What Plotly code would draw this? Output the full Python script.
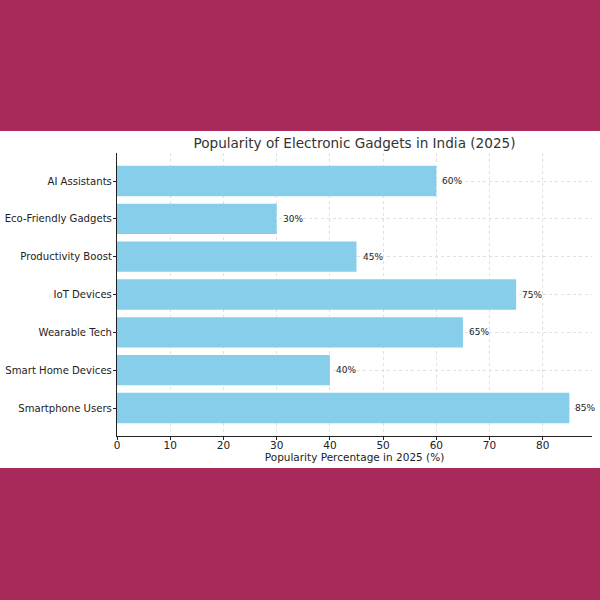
import plotly.graph_objects as go

categories = ["Smartphone Users", "Smart Home Devices", "Wearable Tech", "IoT Devices",
              "Productivity Boost", "Eco-Friendly Gadgets", "AI Assistants"]
values = [85, 40, 65, 75, 45, 30, 60]
x_ticks = [0, 10, 20, 30, 40, 50, 60, 70, 80]

maroon = "#A72A5A"
bar_color = "#87CEEB"
font_family = "DejaVu Sans"

fig = go.Figure()
fig.add_trace(go.Bar(
    x=values, y=list(range(len(categories))), orientation="h",
    marker=dict(color=bar_color, line=dict(width=0)), width=0.8,
    hoverinfo="skip",
))

for i, v in enumerate(values):
    fig.add_annotation(x=v, y=i, text=f"{v}%", showarrow=False, xanchor="left",
                       xshift=4, font=dict(size=9, color="#222222", family=font_family))

# maroon bands above and below the white chart band
fig.add_shape(type="rect", xref="paper", yref="paper", x0=-0.3, x1=1.1, y0=1.0777, y1=1.7,
              fillcolor=maroon, line=dict(width=0), layer="below")
fig.add_shape(type="rect", xref="paper", yref="paper", x0=-0.3, x1=1.1, y0=-0.8, y1=-0.113,
              fillcolor=maroon, line=dict(width=0), layer="below")

fig.update_layout(
    width=600, height=600,
    paper_bgcolor="white", plot_bgcolor="white",
    margin=dict(l=117, r=8, t=153, b=164, autoexpand=False),
    showlegend=False,
    font=dict(family=font_family, color="#222222"),
    title=dict(text="Popularity of Electronic Gadgets in India (2025)",
               x=354.5 / 600, xanchor="center", y=1 - 143 / 600, yanchor="middle",
               font=dict(size=13.6, color="#333333", family=font_family)),
    xaxis=dict(range=[0, 89.25], tickvals=x_ticks, ticktext=[str(t) for t in x_ticks],
               showgrid=True, gridcolor="#e0e0e0", griddash="dot", gridwidth=1,
               showline=True, linecolor="#222222", linewidth=1.2,
               ticks="outside", ticklen=3, tickcolor="#222222",
               tickfont=dict(size=10.5), zeroline=False, automargin=False,
               ticklabelstandoff=-4,
               title=dict(text="Popularity Percentage in 2025 (%)", font=dict(size=10.5), standoff=0)),
    yaxis=dict(range=[-0.74, 6.74], tickvals=list(range(len(categories))), ticktext=categories,
               showgrid=True, gridcolor="#e0e0e0", griddash="dot", gridwidth=1,
               showline=True, linecolor="#222222", linewidth=1.2,
               ticks="outside", ticklen=3, tickcolor="#222222",
               tickfont=dict(size=10.1), zeroline=False, automargin=False,
               ticklabelstandoff=-1),
)

fig.write_html("out.html", config={"displayModeBar": False},
               post_script="document.body.style.margin='0';document.body.style.overflow='hidden';")
